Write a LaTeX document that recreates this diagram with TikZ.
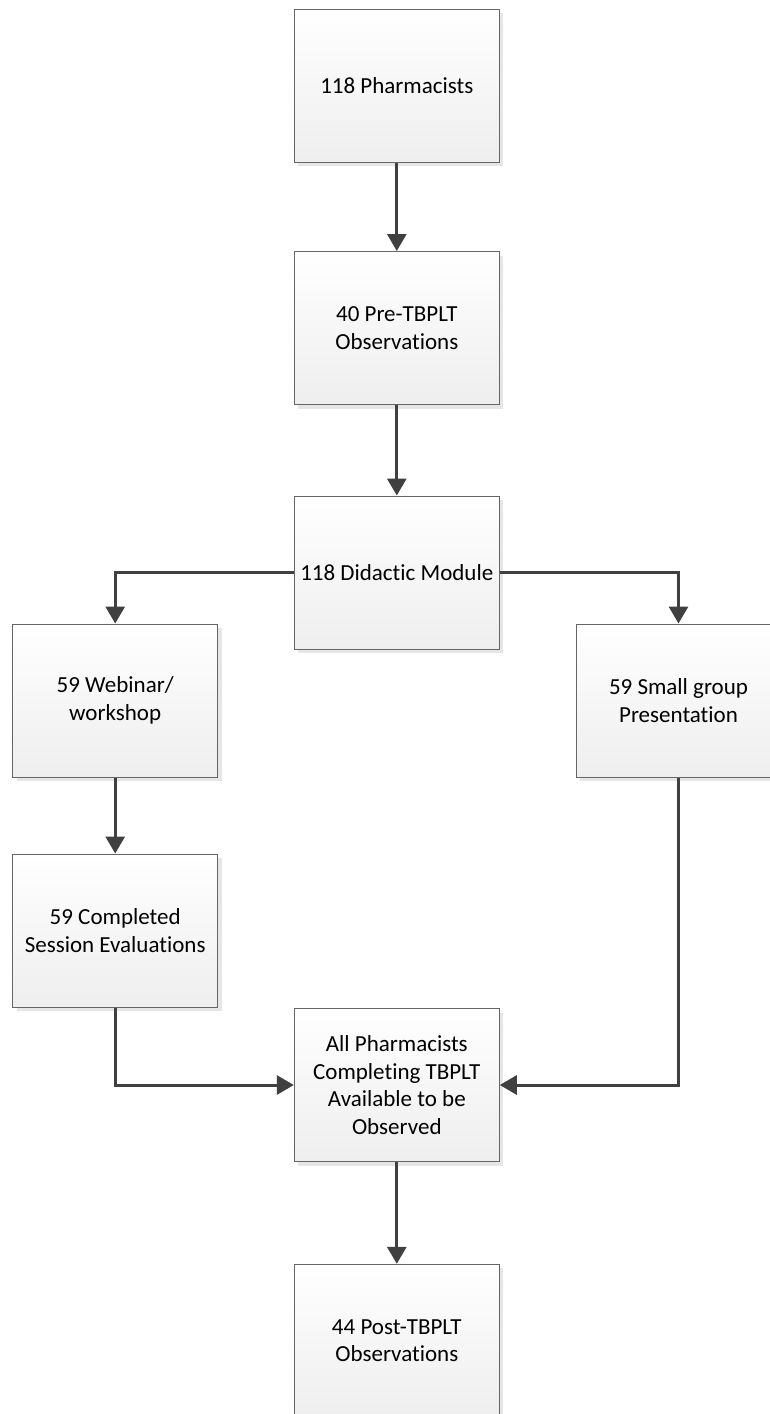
\documentclass[tikz,border=0pt]{standalone}
\usepackage{fontspec}
\setmainfont[Ligatures=NoCommon]{Carlito}
\usetikzlibrary{arrows.meta,shadows}
\definecolor{boxline}{HTML}{666666}
\definecolor{arrowc}{HTML}{404040}
\definecolor{shadowc}{HTML}{E6E6E6}
\definecolor{boxbottom}{HTML}{EEEEEE}
\begin{document}
\begin{tikzpicture}[x=1pt,y=-1pt,
  flowbox/.style={draw=boxline, line width=1pt, minimum width=205pt, minimum height=153pt,
    inner sep=0pt, align=center, top color=white, bottom color=boxbottom,
    font=\fontsize{23}{27.5}\selectfont,
    drop shadow={shadow xshift=4pt, shadow yshift=-4pt, fill=shadowc, opacity=1}},
  flowarrow/.style={draw=arrowc, line width=3pt, -{Triangle[length=17pt,width=19pt]}}]
\useasboundingbox (0,0) rectangle (770,1414);
\clip (0,0) rectangle (770,1414);
\fill[white] (0,0) rectangle (770,1414);
\node[flowbox] (b1) at (396.8,85.5) {118 Pharmacists};
\node[flowbox] (b2) at (396.8,328) {40 Pre-TBPLT\\Observations};
\node[flowbox] (b3) at (396.8,572.5) {118 Didactic Module};
\node[flowbox] (b4) at (115.2,700.5) {59 Webinar/\\workshop};
\node[flowbox] (b5) at (678.5,700.5) {59 Small group\\Presentation};
\node[flowbox] (b6) at (115.2,930.5) {59 Completed\\Session Evaluations};
\node[flowbox] (b7) at (396.8,1085) {All Pharmacists\\Completing TBPLT\\Available to be\\Observed};
\node[flowbox] (b8) at (396.8,1340.8) {44 Post-TBPLT\\Observations};
\draw[flowarrow] (b1.south) -- (b2.north);
\draw[flowarrow] (b2.south) -- (b3.north);
\draw[flowarrow] (b3.west) -| (b4.north);
\draw[flowarrow] (b3.east) -| (b5.north);
\draw[flowarrow] (b4.south) -- (b6.north);
\draw[flowarrow] (b6.south) |- (b7.west);
\draw[flowarrow] (b5.south) |- (b7.east);
\draw[flowarrow] (b7.south) -- (b8.north);
\end{tikzpicture}
\end{document}
